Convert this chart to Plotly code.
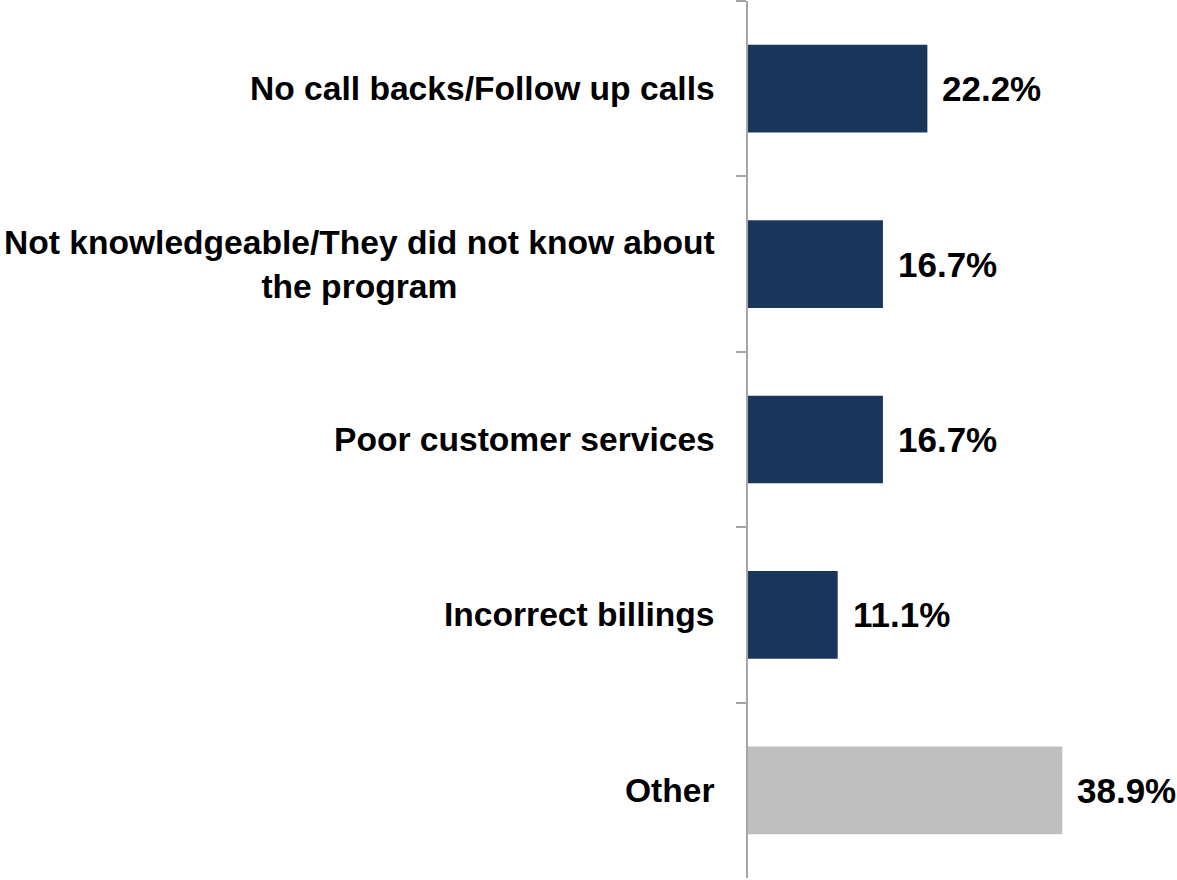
import plotly.graph_objects as go

# Survey responses (percent)
categories = [
    "No call backs/Follow up calls",
    "Not knowledgeable/They did not know about<br>the program",
    "Poor customer services",
    "Incorrect billings",
    "Other",
]
values = [22.2, 16.7, 16.7, 11.1, 38.9]
value_labels = ["22.2%", "16.7%", "16.7%", "11.1%", "38.9%"]
bar_colors = ["#1B365D", "#1B365D", "#1B365D", "#1B365D", "#BFBFBF"]

FONT = "Liberation Sans, Arial, sans-serif"

fig = go.Figure(go.Bar(
    x=values,
    y=categories,
    orientation="h",
    marker=dict(color=bar_colors, line=dict(width=0)),
    width=0.5,
    hoverinfo="skip",
))

# category labels, centred multi-line like the original
for cat in categories:
    fig.add_annotation(
        x=0, xref="paper", y=cat, yref="y",
        text="<b>" + cat + "</b>",
        xanchor="right", align="center", xshift=-31,
        showarrow=False,
        font=dict(family=FONT, size=33.6, color="black"),
    )

# value labels to the right of each bar
for cat, v, lab in zip(categories, values, value_labels):
    fig.add_annotation(
        x=v, y=cat,
        text="<b>" + lab + "</b>",
        xanchor="left", xshift=13,
        showarrow=False,
        font=dict(family=FONT, size=35, color="black"),
    )

fig.update_layout(
    width=1177, height=880,
    margin=dict(l=748, r=25, t=1, b=2),
    plot_bgcolor="white", paper_bgcolor="white",
    showlegend=False,
    font=dict(family=FONT),
)
fig.update_xaxes(range=[0, 50], visible=False, showgrid=False, zeroline=False)
fig.update_yaxes(
    autorange="reversed",
    showticklabels=False,
    showline=True, linecolor="#A6A6A6", linewidth=2,
    ticks="outside", tickson="boundaries", ticklen=10,
    tickcolor="#A6A6A6", tickwidth=2,
    showgrid=False,
)

# drop the browser's default page margin so the figure sits at (0, 0)
fig.write_html("out.html", config={"displayModeBar": False},
               post_script="document.body.style.margin='0';")
